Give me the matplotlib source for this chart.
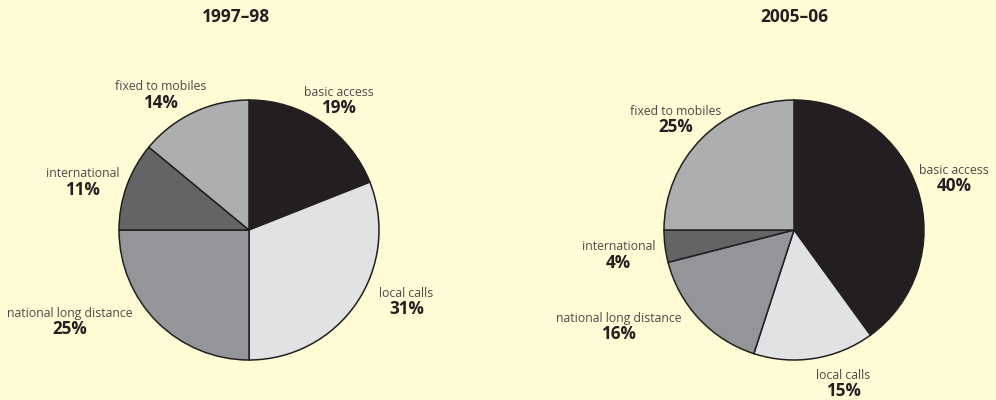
import matplotlib.pyplot as plt

# spending shares by call type, two periods
categories = ['basic access', 'local calls', 'national long distance',
              'international', 'fixed to mobiles']
share_9798 = [19, 31, 25, 11, 14]
share_0506 = [40, 15, 16, 4, 25]
titles = ['1997\u201398', '2005\u201306']

colours = ['#231F20', '#E1E2E4', '#939598', '#636466', '#ADAEB0']
bg = '#FFFBD5'
ink = '#231F20'

plt.rcParams['font.family'] = ['Open Sans', 'DejaVu Sans']

fig = plt.figure(figsize=(9.96, 4), dpi=100, facecolor=bg)
ax = fig.add_axes([0, 0, 1, 1])
ax.set_facecolor(bg)

R = 130
centres = [(249, 170), (794, 170)]
title_x = [236, 794]

# label offsets from pie centre, in units of radius (x right, y up)
offsets = [
    [(0.69, 1.00), (1.21, -0.55), (-1.38, -0.70), (-1.28, 0.37), (-0.68, 1.04)],
    [(1.23, 0.40), (0.38, -1.18), (-1.35, -0.74), (-1.35, -0.19), (-0.91, 0.85)],
]

for k, vals in enumerate([share_9798, share_0506]):
    cx, cy = centres[k]
    ax.pie(vals, colors=colours, startangle=90, counterclock=False,
           center=(cx, cy), radius=R,
           wedgeprops=dict(edgecolor=ink, linewidth=1.1))
    ax.text(title_x[k], 383, titles[k], ha='center', va='center',
            fontsize=12.5, fontweight='bold', color=ink)
    for name, v, (dx, dy) in zip(categories, vals, offsets[k]):
        x = cx + dx * R
        y = cy + dy * R
        ax.text(x, y + 8, name, ha='center', va='center',
                fontsize=8.8, color='#4A4A4C')
        ax.text(x, y - 8, f'{v}%', ha='center', va='center',
                fontsize=12.3, fontweight='bold', color=ink)

ax.set_xlim(0, 996)
ax.set_ylim(0, 400)
ax.set_aspect('equal')
ax.axis('off')

fig.savefig('out.png', dpi=100, facecolor=bg)
